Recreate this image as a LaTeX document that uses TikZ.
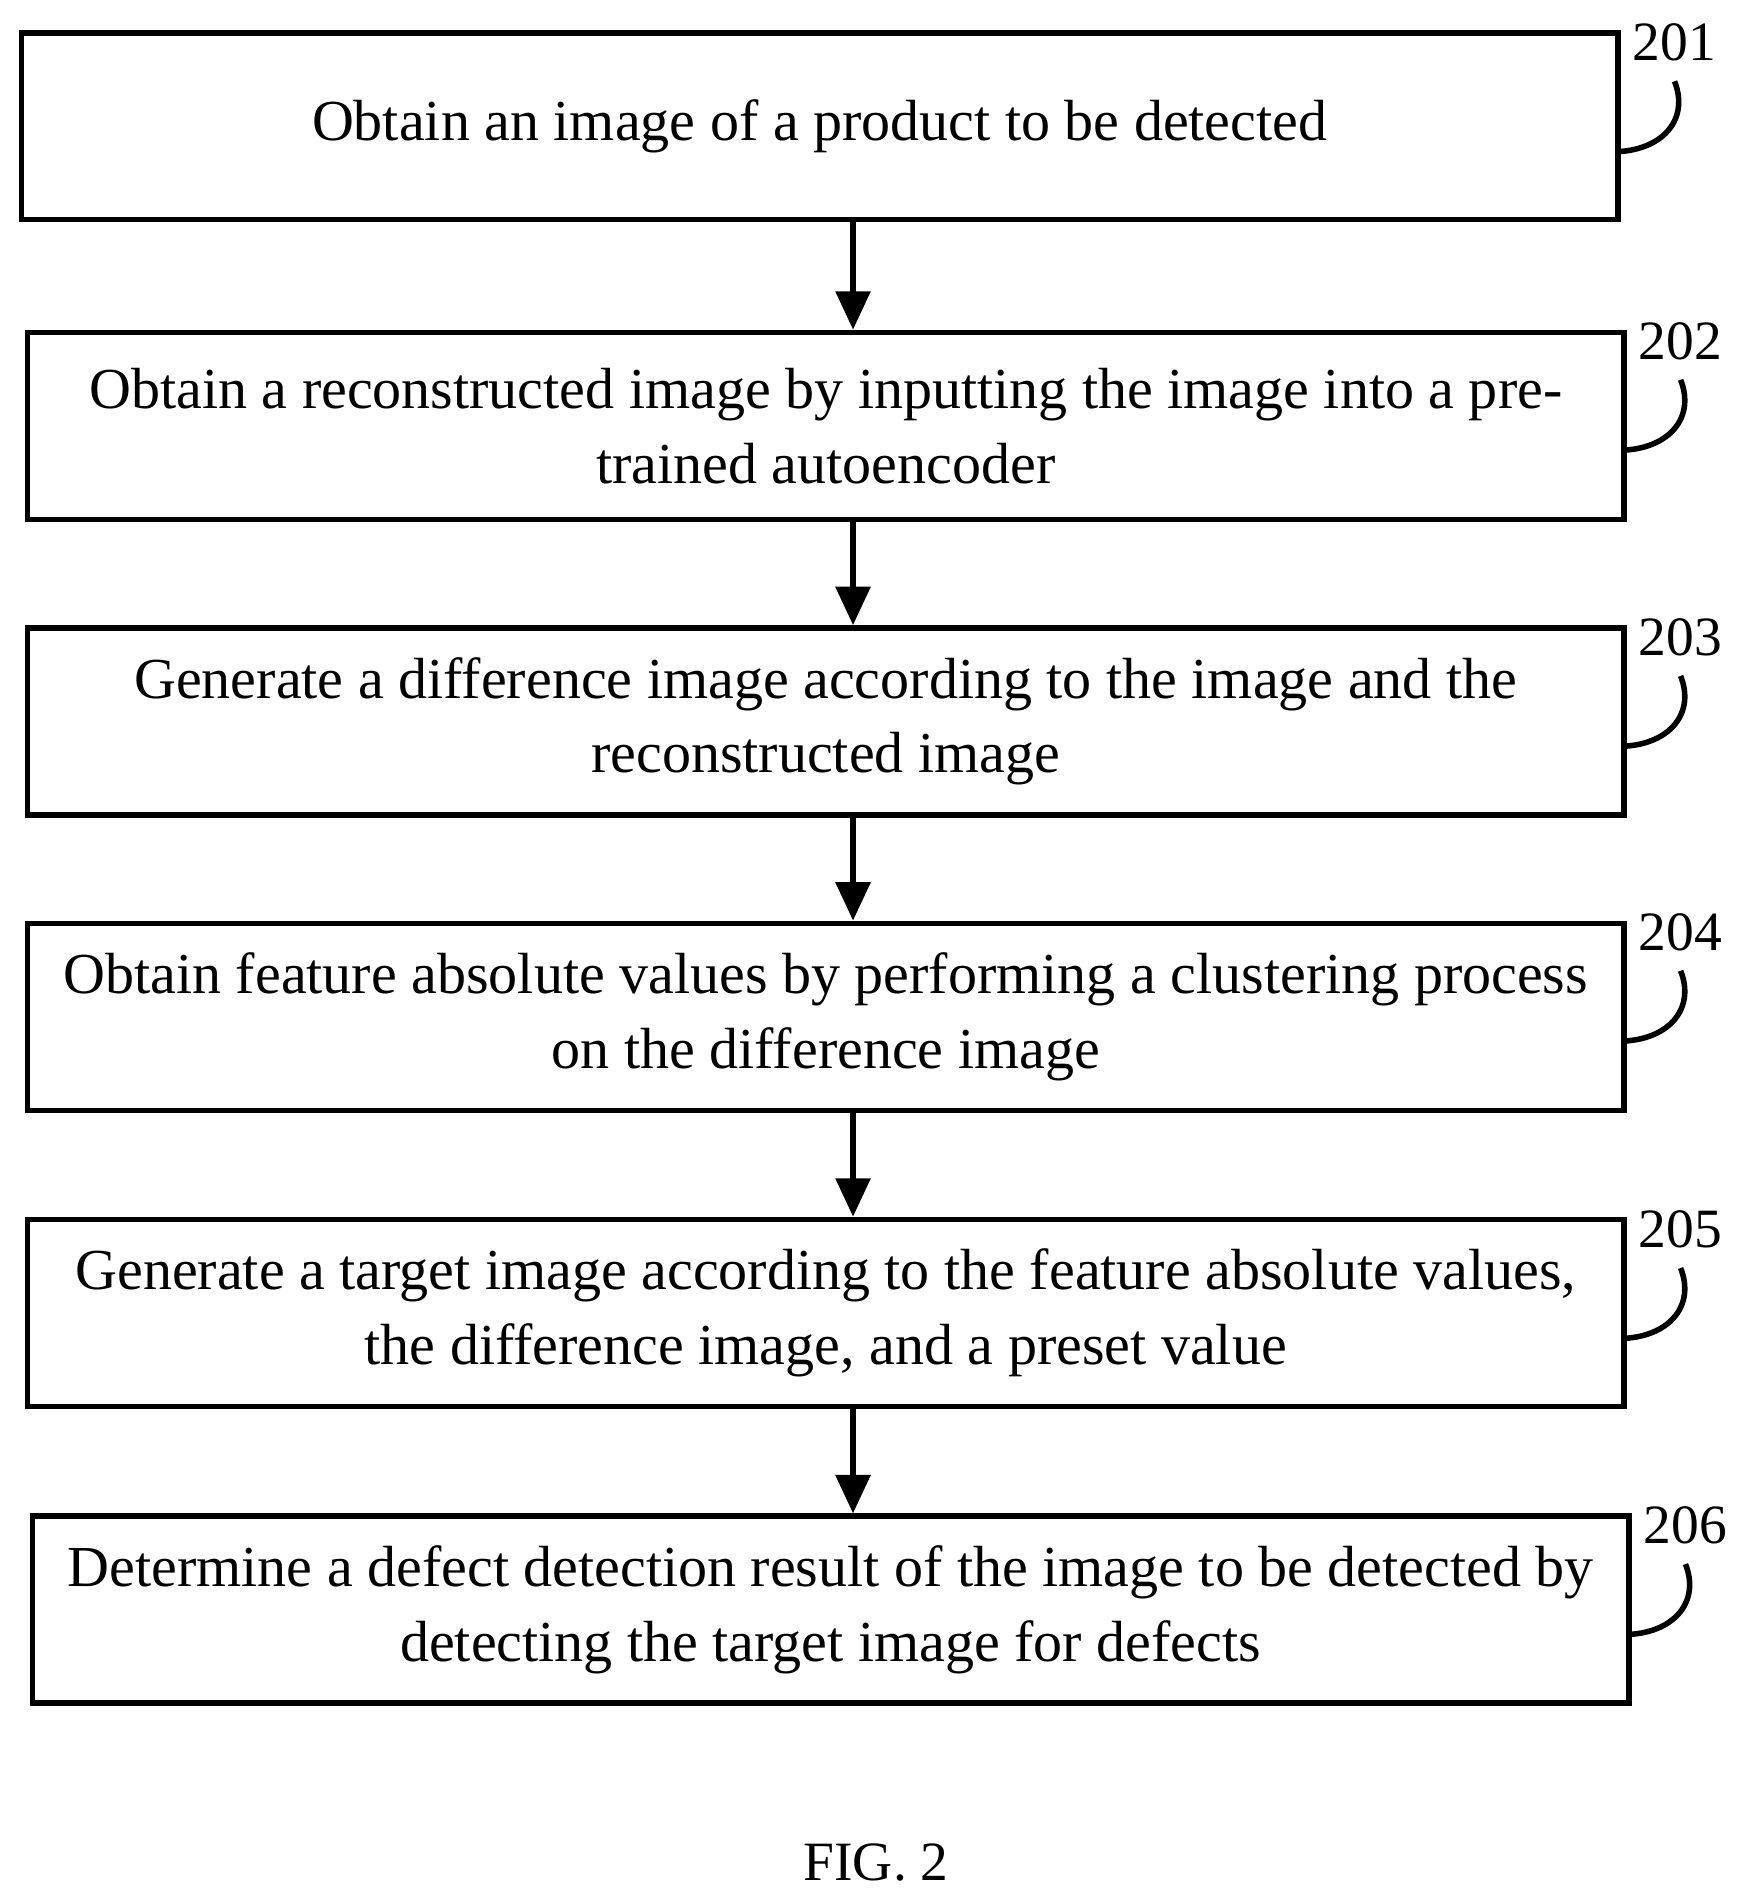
\documentclass[tikz,border=0pt]{standalone}
\usepackage{fontspec}
\setmainfont{Liberation Serif}
\usetikzlibrary{arrows.meta}
\begin{document}
\begin{tikzpicture}[x=0.01cm,y=-0.01cm,
  stepbox/.style={draw,line width=1.3pt,minimum width=13.15cm,minimum height=1.54cm,align=center,font=\fontsize{13.6pt}{17.5pt}\selectfont,inner sep=0pt},
  arr/.style={-{Triangle[length=9pt,width=8pt]},line width=1.3pt},
  lab/.style={font=\fontsize{13pt}{15pt}\selectfont},
  lead/.style={line width=1.3pt}]
\useasboundingbox (0,0) rectangle (1440,1565);
\node[stepbox] (b1) at (675.5,104) {Obtain an image of a product to be detected};
\node[stepbox] (b2) at (680.5,351) {Obtain a reconstructed image by inputting the image into a pre-\\trained autoencoder};
\node[stepbox] (b3) at (680.5,594.5) {Generate a difference image according to the image and the\\reconstructed image};
\node[stepbox] (b4) at (680.5,838) {Obtain feature absolute values by performing a clustering process\\on the difference image};
\node[stepbox] (b5) at (680.5,1082) {Generate a target image according to the feature absolute values,\\the difference image, and a preset value};
\node[stepbox] (b6) at (684.5,1326.5) {Determine a defect detection result of the image to be detected by\\detecting the target image for defects};
\foreach \a/\b in {b1/b2,b2/b3,b3/b4,b4/b5,b5/b6}
  \draw[arr] (\a.south -| 703,0) -- (\b.north -| 703,0);
\foreach \n/\y/\t/\dx in {b1/27/201/0,b2/273/202/5,b3/517/203/5,b4/760/204/5,b5/1005/205/5,b6/1249/206/9}{
  \node[lab] (l\t) at (1380+\dx,\y+8) {\t};
  \coordinate (e\t) at (1333+\dx,\y+98);
  \coordinate (t\t) at (1380+\dx,\y+40);
  \draw[lead] (e\t) .. controls (1372+\dx,\y+96) and (1392+\dx,\y+70) .. (t\t);
}
\node[font=\fontsize{13pt}{15pt}\selectfont] (fig) at (722,1535) {FIG. 2};
\end{tikzpicture}
\end{document}
